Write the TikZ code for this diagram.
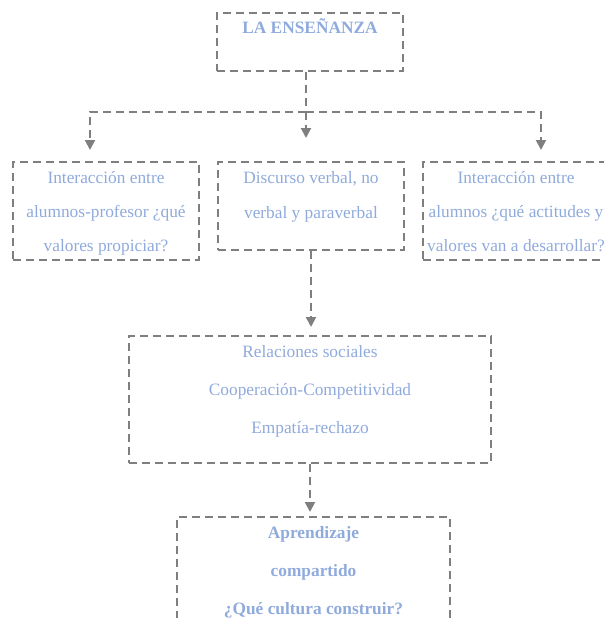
\documentclass[tikz,border=0pt]{standalone}
\usepackage{fontspec}
\setmainfont{Liberation Serif}
\usetikzlibrary{arrows.meta}
\definecolor{txtblue}{RGB}{143,170,220}
\definecolor{linegray}{RGB}{127,127,127}
\begin{document}
\begin{tikzpicture}[x=.75pt,y=-.75pt,
 link/.style={linegray,line width=1.5pt,dash pattern=on 6pt off 3.75pt},
 box/.style 2 args={link,draw,inner sep=0,minimum width=#1,minimum height=#2},
 arr/.style={link,-{Triangle[width=7.5pt,length=7.5pt]}},
 txt/.style={text=txtblue,align=center,anchor=north,inner sep=0,yshift=-7.5pt,font=\fontsize{13}{25.5}\selectfont},
 txtb/.style={txt,font=\bfseries\fontsize{13}{28.5}\selectfont}]
\useasboundingbox(0,0)rectangle(604,618);\clip(0,0)rectangle(604,618);
% boxes
\node[box={139.5pt}{43.5pt}](ense)at(310,42){};
\node[box={139.5pt}{73.5pt}](inter1)at(106,211){};
\node[box={139.5pt}{66pt}](disc)at(311,206){};
\node[box={139.5pt}{73.5pt}](inter2)at(516,211){};
\node[box={271.5pt}{95.25pt}](rel)at(310,399.5){};
\node[box={204.75pt}{95.25pt}](apr)at(313.5,580.5){};
% texts
\node[txtb,yshift=2.5pt](enseT)at(ense.north){LA ENSEÑANZA};
\node[txt](inter1T)at(inter1.north){Interacción entre\\alumnos-profesor ¿qué\\valores propiciar?};
\node[txt,font=\fontsize{13}{26.25}\selectfont](discT)at(disc.north){Discurso verbal, no\\verbal y paraverbal};
\node[txt](inter2T)at(inter2.north){Interacción entre\\alumnos ¿qué actitudes y\\valores van a desarrollar?};
\node[txt,font=\fontsize{13}{28.5}\selectfont](relT)at(rel.north){Relaciones sociales\\Cooperación-Competitividad\\Empatía-rechazo};
\node[txtb](aprT)at(apr.north){Aprendizaje\\compartido\\¿Qué cultura construir?};
% connectors
\coordinate(split)at(306,112);\coordinate(tipL)at(90,150);\coordinate(tipM)at(306,138);\coordinate(tipR)at(541,150);
\draw[link](ense.south-|split)--(split);
\draw[arr](split)-|(tipL);\draw[arr](split)-|(tipR);\draw[arr](split)--(tipM);
\draw[arr,shorten >=6pt](disc.south)--(disc.south|-rel.north);
\draw[arr,shorten >=3pt](rel.south)--(rel.south|-apr.north);
\end{tikzpicture}
\end{document}
